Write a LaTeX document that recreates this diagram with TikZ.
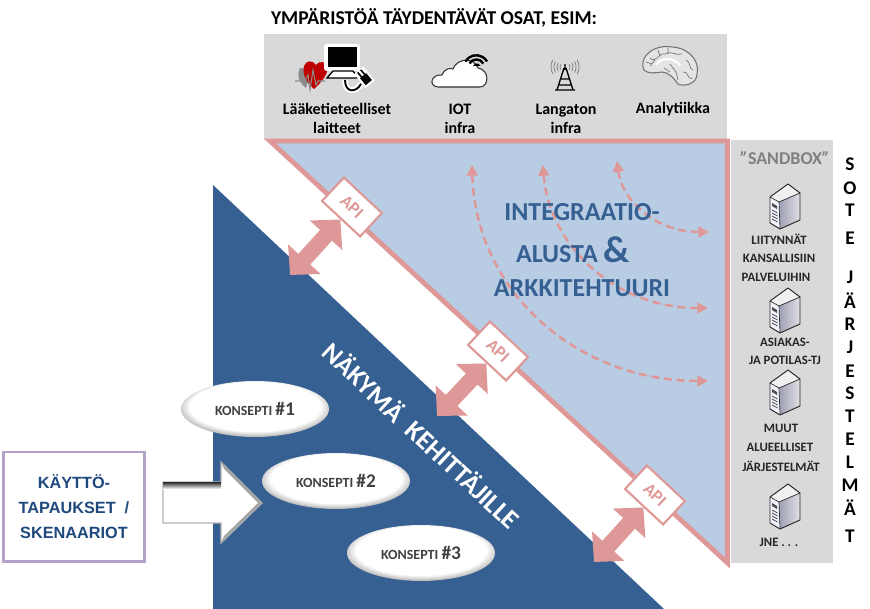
\documentclass[tikz,border=0pt]{standalone}
\usepackage{fontspec}
\setmainfont{Carlito}
\newfontfamily\arialfont{Liberation Sans}
\usetikzlibrary{arrows.meta,positioning,shapes.geometric,shadows}
\definecolor{panel}{RGB}{217,217,217}
\definecolor{paleblue}{RGB}{184,204,228}
\definecolor{deepblue}{RGB}{54,96,146}
\definecolor{navy}{RGB}{31,73,125}
\definecolor{rose}{RGB}{222,152,152}
\definecolor{lilac}{RGB}{179,162,199}
\definecolor{ink}{RGB}{64,64,64}
\pgfdeclareradialshading{bevel}{\pgfpoint{0bp}{4bp}}{color(0bp)=(white); color(22bp)=(white); color(26bp)=(black!25); color(29bp)=(black!70); color(50bp)=(black!70)}
\tikzset{
  apibox/.style={draw=rose,line width=1.6pt,fill=white,text=rose,rotate=-43,minimum width=39pt,minimum height=24pt,inner sep=0pt,font=\bfseries\fontsize{13}{14}\selectfont},
  apilink/.style={draw=rose,line width=12pt,{Triangle[length=16pt,width=32pt]}-{Triangle[length=16pt,width=32pt]},shorten <=0pt,shorten >=0pt},
  flow/.style={draw=rose,line width=1.9pt,dash pattern=on 6pt off 3.5pt,{Triangle[length=8pt,width=8pt]}-{Triangle[length=8pt,width=8pt]}},
  konsepti/.style={ellipse,shading=bevel,text=ink,minimum width=111pt,minimum height=42pt,inner sep=0pt,font=\bfseries\fontsize{10.5}{12}\selectfont},
  toptext/.style={font=\bfseries\fontsize{12}{14.2}\selectfont,align=center,text=black},
  sidetext/.style={font=\bfseries\fontsize{9.6}{10}\selectfont,text=black!85},
  sideletter/.style={font=\bfseries\fontsize{14.5}{15}\selectfont,text=black},
  introtext/.style={font=\bfseries\fontsize{19.5}{21}\selectfont,text=deepblue},
  serverpic/.pic={
    \fill[blue!8!black!6] (0,13) -- (18,0) -- (30,9) -- (9,18) -- cycle;
    \shade[left color=blue!25!black!38,right color=blue!10!black!12] (9,18) -- (30,9) -- (30,36) -- (10,45) -- cycle;
    \fill[blue!5] (0,13) -- (9,18) -- (10,45) -- (0,39) -- cycle;
    \draw[black!85,line width=.7pt,line join=round] (0,13) -- (18,0) -- (30,9) -- (30,36) -- (10,45) -- (0,39) -- cycle;
    \draw[black!85,line width=.5pt] (0,13) -- (9,18) -- (30,9) (9,18) -- (10,45);
    \fill[black!70] (2,19) -- (7,22) -- (7,25) -- (2,22) -- cycle;
    \foreach \s in {26,29,32,35}
      \draw[black!70,line width=.6pt] (2,\s) -- (7.5,\s+3);
  }
}
\begin{document}
\begin{tikzpicture}[x=0.75pt,y=-0.75pt]
  \useasboundingbox (0,0) rectangle (870,609);
  % panels
  \fill[panel] (264,34) rectangle (727,140);
  \fill[panel] (731,140) rectangle (833,563);
  \fill[deepblue] (213,185) -- (213,609) -- (664,609) -- cycle;
  \draw[rose,line width=3.6pt,fill=paleblue,line join=miter] (270,141) -- (727.5,141) -- (727.5,563) -- cycle;
  % top row
  \node[font=\bfseries\fontsize{14.7}{16}\selectfont,text=black] (otsikko) at (434,18) {YMPÄRISTÖÄ TÄYDENTÄVÄT OSAT, ESIM:};
  \node[toptext] (laite) at (337,118.5) {Lääketieteelliset\\laitteet};
  \node[toptext] (iot) at (460,118.5) {IOT\\infra};
  \node[toptext] (langaton) at (566,118.5) {Langaton\\infra};
  \node[toptext] (analyt) at (673,109) {Analytiikka};
  % heart, monitor, plug
  \fill[black!45] (300,68) .. controls (296,76) and (300,84) .. (306,88) -- (312,70) -- cycle;
  \fill[red!75!black] (314,89) .. controls (306,82) and (302,74) .. (304,66) .. controls (306,60) and (313,60) .. (316,65) .. controls (319,60) and (326,62) .. (328,66) .. controls (328,74) and (322,82) .. (314,89) -- cycle;
  \draw[black!45,line width=.8pt] (295,81) -- (305,81) -- (308,75) -- (310,90) -- (313,70) -- (316,85) -- (318,81) -- (325,81);
  \draw[white,line width=4.5pt] (345,80) .. controls (345,93) and (356,93) .. (361,84);
  \draw[black,line width=1.4pt] (345,80) .. controls (345,93) and (356,93) .. (361,84);
  \fill[white,rounded corners=2pt] (324,44) rectangle (360,71);
  \fill[black] (328,47) rectangle (357,67);
  \draw[black,line width=1pt,fill=white] (333,71) -- (353,71) -- (358,78) -- (327,78) -- cycle;
  \fill[white,rotate around={40:(365,78)}] (359,68) rectangle (371,86);
  \fill[black,rotate around={40:(365,78)}] (361,75) rectangle (369,84);
  \draw[black,line width=1.2pt,rotate around={40:(365,78)}] (363,75) -- (363,69) (367,75) -- (367,69);
  % cloud and wifi
  \draw[black!80,line width=.8pt,fill=white] (438,87) .. controls (428,86) and (431,74) .. (442,75) .. controls (445,68) and (450,68) .. (453,69) .. controls (457,58) and (474,57) .. (478,68) .. controls (490,70) and (489,87) .. (480,87) -- cycle;
  \draw[black,line width=1.8pt] (465.4,61.5) arc[start angle=210,end angle=330,radius=12.5];
  \draw[black,line width=1.8pt] (469.5,63.5) arc[start angle=210,end angle=330,radius=8];
  \fill[black] (473,66) arc[start angle=200,end angle=340,radius=4] -- cycle;
  % antenna
  \draw[black,line width=1pt] (564,68) -- (557,90) (566,68) -- (573,90) (555,90) -- (575,90) (561,79) -- (569,79) (559.5,85) -- (570.5,85) (565,64) -- (565,70);
  \foreach \r in {5,8,11,14}{
    \draw[black!55,line width=.5pt] (565+\r*0.87,67-\r*0.5) arc[start angle=-30,end angle=30,radius=\r];
    \draw[black!55,line width=.5pt] (565-\r*0.87,67-\r*0.5) arc[start angle=210,end angle=150,radius=\r];
  }
  % brain
  \draw[black!55,line width=.8pt,fill=panel!70!white] (644,70) .. controls (638,56) and (655,44) .. (672,47) .. controls (690,48) and (700,62) .. (697,74) .. controls (697,84) and (684,87) .. (678,84) .. controls (674,78) and (668,72) .. (662,72) .. controls (655,73) and (648,74) .. (644,70) -- cycle;
  \draw[white,line width=1.6pt] (656,65) .. controls (662,56) and (676,58) .. (680,66);
  \draw[black!55,line width=.5pt] (650,58) .. controls (655,64) and (660,52) .. (665,54) .. controls (670,50) and (676,56) .. (682,54) (650,66) -- (655,60) (646,62) -- (652,64) (658,50) -- (660,56) (668,48) -- (668,54) (686,60) .. controls (692,64) and (688,68) .. (693,70) (683,72) .. controls (690,72) and (686,80) .. (693,78) (664,68) -- (670,72) (670,64) -- (676,72) -- (678,80);
  % flows and title
  \draw[flow] (472,165) .. controls (476,295) and (580,381) .. (708,381);
  \draw[flow] (543,165) .. controls (548,240) and (610,308) .. (708,308);
  \draw[flow] (617,161) .. controls (622,200) and (655,232) .. (709,232);
  \node[introtext] (integ) at (582,212) {INTEGRAATIO-};
  \node[introtext] (alusta) at (573,250) {ALUSTA \fontsize{28}{21}\selectfont\&};
  \node[introtext] (arkki) at (582,288) {ARKKITEHTUURI};
  \node[rotate=-43,font=\bfseries\fontsize{20}{21}\selectfont,text=white] (nakyma) at (422,435) {NÄKYMÄ\ \ KEHITTÄJILLE};
  % api boxes with arrows
  \foreach \x/\y/\ex/\ey [count=\i] in {352/207/290/275,498/351/437/416,655/495/594/562}{
    \node[apibox] (api\i) at (\x,\y) {API};
    \coordinate (dev\i) at (\ex,\ey);
    \draw[apilink] (api\i.south) -- (dev\i);
  }
  % concepts
  \foreach \x/\y [count=\i] in {255/409,336/481,421/553}{
    \node[konsepti] (kons\i) at (\x,\y) {KONSEPTI \fontsize{14.5}{12}\selectfont\#\i};
  }
  % left box and block arrow
  \node[draw=lilac,line width=2pt,fill=white,minimum width=106pt,minimum height=82pt,inner sep=0pt,align=center,text=navy,font=\arialfont\bfseries\fontsize{12.2}{19}\selectfont] (kaytto) at (74,506.5) {KÄYTTÖ-\\TAPAUKSET\ \ /\\SKENAARIOT};
  \draw[black!30,line width=1pt,fill=white,line join=miter] (163,482) -- (221,482) -- (221,462) -- (262,503) -- (221,543) -- (221,523) -- (163,523) -- cycle;
  \shade[top color=black!85,bottom color=white] (163,482) rectangle (221,489);
  \fill[black!35] (221,462) -- (262,503) -- (258,503) -- (224,469) -- cycle;
  \fill[black!35] (221,543) -- (262,503) -- (258,503) -- (224,536) -- cycle;
  % sandbox
  \node[font=\bfseries\fontsize{13.5}{15}\selectfont,text=black!50] (sandbox) at (785,158) {\textit{”}SANDBOX\textit{”}};
  \foreach \y in {184,288,370,484}
    \pic at (770,\y) {serverpic};
  \foreach \t/\x/\y [count=\i] in {LIITYNNÄT/779/239,KANSALLISIIN/779/258,PALVELUIHIN/776/277,ASIAKAS-/785/342,JA POTILAS-TJ/785/360,MUUT/781/428,ALUEELLISET/780/447,JÄRJESTELMÄT/781/466}{
    \node[sidetext] (side\i) at (\x,\y) {\t};
  }
  \node[sidetext] (jne) at (779,542) {JNE . . .};
  \foreach \t/\y [count=\i] in {S/164,O/188,T/210,E/238,J/277,Ä/301,R/324,J/347,E/371,S/393,T/416,E/439,L/462,M/485,Ä/508,T/536}{
    \node[sideletter] (sote\i) at (850,\y) {\t};
  }
\end{tikzpicture}
\end{document}
